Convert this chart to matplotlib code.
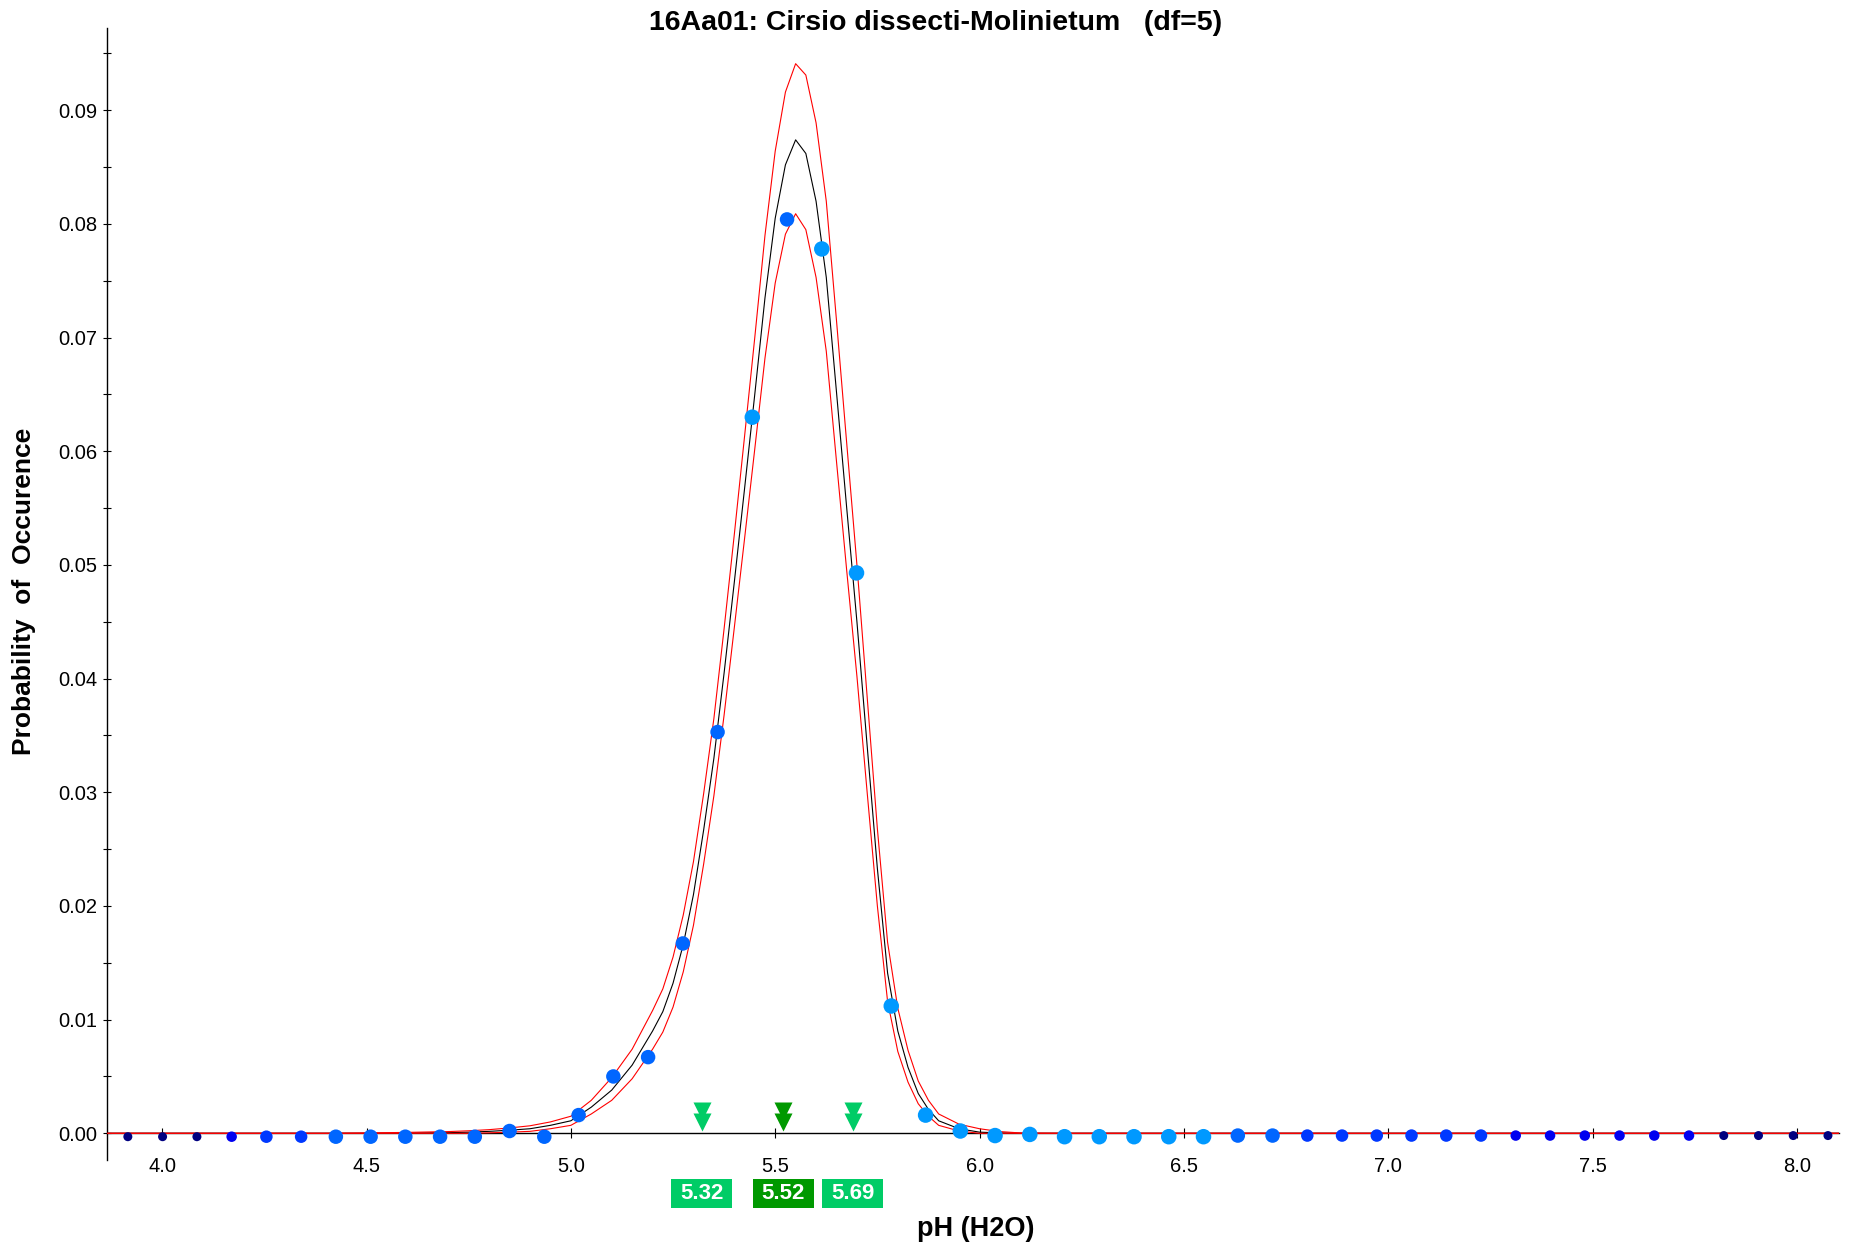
import matplotlib
matplotlib.use("Agg")
import matplotlib.pyplot as plt
from matplotlib import transforms
from matplotlib.patches import Rectangle
from matplotlib.ticker import MultipleLocator, FormatStrFormatter

plt.rcParams["font.family"] = ["Liberation Sans", "DejaVu Sans"]

# ---------------------------------------------------------------- data
title = "16Aa01: Cirsio dissecti-Molinietum   (df=5)"
x_label = "pH (H2O)"
y_label = "Probability  of  Occurence"

# fitted response curve and its confidence band
curve_ph = [3.865, 4.40, 4.50, 4.60, 4.70, 4.75, 4.80, 4.85, 4.90, 4.95,
            5.00, 5.05, 5.10, 5.15, 5.20, 5.225, 5.25, 5.275, 5.30, 5.325,
            5.35, 5.375, 5.40, 5.425, 5.45, 5.475, 5.50, 5.525, 5.55, 5.575,
            5.60, 5.625, 5.65, 5.675, 5.70, 5.725, 5.75, 5.775, 5.80, 5.825,
            5.85, 5.875, 5.90, 5.95, 6.00, 6.05, 6.10, 6.20, 8.103]
curve_fit = [0.0, 0.0, 0.0, 0.00002, 0.00005, 0.0001, 0.00017, 0.00027, 0.0004, 0.0007,
             0.0011, 0.0023, 0.0038, 0.0060, 0.0090, 0.0107, 0.0132, 0.0166, 0.0210, 0.0267,
             0.0330, 0.0405, 0.0485, 0.0567, 0.0650, 0.0735, 0.0805, 0.0852, 0.0874, 0.0862,
             0.0820, 0.0753, 0.0652, 0.0550, 0.0450, 0.0341, 0.0233, 0.0141, 0.0090, 0.0058,
             0.0035, 0.0021, 0.0011, 0.0004, 0.0001, 0.00003, 0.0, 0.0, 0.0]
curve_upper = [0.0, 0.0, 0.00003, 0.00008, 0.00015, 0.00022, 0.00032, 0.00047, 0.00066, 0.0010,
               0.0015, 0.0029, 0.0049, 0.0074, 0.0108, 0.0127, 0.0155, 0.0192, 0.0239, 0.0299,
               0.0365, 0.0444, 0.0527, 0.0613, 0.0700, 0.0790, 0.0864, 0.0916, 0.0941, 0.0931,
               0.0889, 0.0820, 0.0715, 0.0607, 0.0500, 0.0384, 0.0268, 0.0168, 0.0110, 0.0073,
               0.0046, 0.0029, 0.0017, 0.0008, 0.0004, 0.00015, 0.00003, 0.0, 0.0]
curve_lower = [0.0, 0.0, 0.0, 0.0, 0.0, 0.0, 0.00004, 0.0001, 0.00017, 0.0004,
               0.0007, 0.0017, 0.0029, 0.0048, 0.0074, 0.0089, 0.0111, 0.0142, 0.0183, 0.0237,
               0.0297, 0.0368, 0.0445, 0.0523, 0.0602, 0.0682, 0.0748, 0.0791, 0.0809, 0.0795,
               0.0753, 0.0688, 0.0591, 0.0495, 0.0402, 0.0300, 0.0200, 0.0116, 0.0072, 0.0045,
               0.0026, 0.0015, 0.0007, 0.0002, 0.0, 0.0, 0.0, 0.0, 0.0]

# observed frequency per pH class, with a relevé-count class per bin
bin_ph = [3.916, 4.001, 4.085, 4.170, 4.255, 4.340, 4.425, 4.510, 4.595, 4.680,
          4.765, 4.850, 4.935, 5.019, 5.104, 5.189, 5.274, 5.359, 5.444, 5.529,
          5.614, 5.699, 5.784, 5.868, 5.953, 6.038, 6.123, 6.208, 6.293, 6.378,
          6.463, 6.548, 6.632, 6.717, 6.802, 6.887, 6.972, 7.057, 7.142, 7.227,
          7.312, 7.396, 7.481, 7.566, 7.651, 7.736, 7.821, 7.906, 7.991, 8.076]
bin_freq = [-0.0003, -0.0003, -0.0003, -0.0003, -0.0003, -0.0003, -0.0003, -0.0003, -0.0003, -0.0003,
            -0.0003, 0.0002, -0.0003, 0.0016, 0.0050, 0.0067, 0.0167, 0.0353, 0.0630, 0.0804,
            0.0778, 0.0493, 0.0112, 0.0016, 0.0002, -0.0002, -0.0001, -0.0003, -0.0003, -0.0003,
            -0.0003, -0.0003, -0.0002, -0.0002, -0.0002, -0.0002, -0.0002, -0.0002, -0.0002, -0.0002,
            -0.0002, -0.0002, -0.0002, -0.0002, -0.0002, -0.0002, -0.0002, -0.0002, -0.0002, -0.0002]
bin_class = [1, 1, 1, 2, 3, 3, 4, 4, 4, 4,
             4, 4, 4, 4, 4, 4, 4, 4, 5, 4,
             5, 5, 5, 5, 5, 5, 5, 5, 5, 5,
             5, 5, 4, 4, 3, 3, 3, 3, 3, 3,
             2, 2, 2, 2, 2, 2, 1, 1, 1, 1]

# quantile markers below the curve
marker_values = [5.32, 5.52, 5.69]
marker_labels = ["5.32", "5.52", "5.69"]
marker_kind = ["quartile", "median", "quartile"]

# ---------------------------------------------------------------- styles
class_colors = {1: "#000080", 2: "#0000F0", 3: "#0038FF", 4: "#0066FF", 5: "#0099FF"}
class_diam_px = {1: 9.0, 2: 10.5, 3: 12.5, 4: 14.5, 5: 15.5}
kind_colors = {"quartile": "#00CC66", "median": "#009900"}

W, H = 1851, 1244
fig = plt.figure(figsize=(W / 100, H / 100), dpi=100)
ax_l, ax_r, ax_t, ax_b = 107, 1839, 28, 1160
ax = fig.add_axes([ax_l / W, 1 - ax_b / H, (ax_r - ax_l) / W, (ax_b - ax_t) / H])
ax.set_xlim(3.865, 8.103)
ax.set_ylim(-0.00235, 0.09724)

for side in ("top", "right"):
    ax.spines[side].set_visible(False)
ax.spines["bottom"].set_position(("data", 0))
ax.spines["bottom"].set_linewidth(1.0)
ax.spines["left"].set_linewidth(1.0)

ax.xaxis.set_major_locator(MultipleLocator(0.5))
ax.xaxis.set_major_formatter(FormatStrFormatter("%.1f"))
ax.yaxis.set_major_locator(MultipleLocator(0.01))
ax.yaxis.set_minor_locator(MultipleLocator(0.005))
ax.yaxis.set_major_formatter(FormatStrFormatter("%.2f"))
ax.tick_params(axis="x", direction="inout", length=6.5, width=0.8, pad=14, labelsize=14.5)
ax.tick_params(axis="y", which="both", direction="inout", length=6, width=0.8, pad=4,
               labelsize=14.5)

# response curve with band
ax.plot(curve_ph, curve_fit, color="black", lw=0.8, zorder=3)
ax.plot(curve_ph, curve_upper, color="#FF0000", lw=0.8, zorder=4)
ax.plot(curve_ph, curve_lower, color="#FF0000", lw=0.8, zorder=4)

# observed frequencies
for cls in sorted(class_colors):
    xs = [x for x, c in zip(bin_ph, bin_class) if c == cls]
    ys = [y for y, c in zip(bin_freq, bin_class) if c == cls]
    d_pt = class_diam_px[cls] * 72 / 100
    ax.scatter(xs, ys, s=d_pt ** 2, color=class_colors[cls], edgecolors="none",
               zorder=5, clip_on=False)

# double triangles and value boxes
tri_hi = transforms.offset_copy(ax.transData, fig=fig, x=0, y=21.9, units="dots")
tri_lo = transforms.offset_copy(ax.transData, fig=fig, x=0, y=11.4, units="dots")
blend = transforms.blended_transform_factory(ax.transData, fig.transFigure)
box_w = 0.15
box_y0 = 1 - 1207.7 / H
box_h = 29.0 / H
for v, lab, kind in zip(marker_values, marker_labels, marker_kind):
    col = kind_colors[kind]
    ax.plot([v], [0], marker="v", ms=12.5, color=col, mec="none", transform=tri_hi,
            zorder=6, clip_on=False)
    ax.plot([v], [0], marker="v", ms=12.5, color=col, mec="none", transform=tri_lo,
            zorder=6, clip_on=False)
    ax.add_patch(Rectangle((v - box_w / 2, box_y0), box_w, box_h, transform=blend,
                           facecolor=col, edgecolor="none", clip_on=False))
    ax.text(v, box_y0 + box_h / 2, lab, transform=blend, ha="center", va="center",
            color="white", fontsize=16, fontweight="bold", clip_on=False)

fig.text(935.5 / W, 1 - 23 / H, title, ha="center", va="center",
         fontsize=20.5, fontweight="bold")
fig.text(976 / W, 1 - 1229 / H, x_label, ha="center", va="center",
         fontsize=19.5, fontweight="bold")
fig.text(23.6 / W, 1 - 591 / H, y_label, ha="center", va="center", rotation=90,
         fontsize=19, fontweight="bold")

fig.savefig("out.png", dpi=100)
